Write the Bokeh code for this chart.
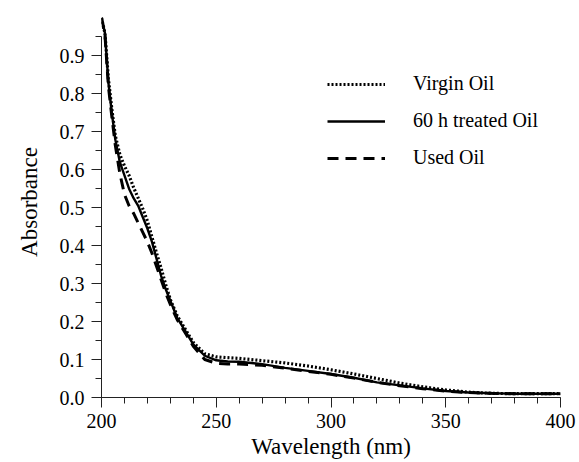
from bokeh.plotting import figure
from bokeh.models import Range1d, FixedTicker, Legend, LegendItem
from bokeh.embed import file_html
from bokeh.resources import INLINE

wavelength = [200, 201.5, 203, 204.5, 206, 208, 210, 212, 214, 216, 218, 220, 222, 224, 226, 228, 230,
              233, 236, 240, 245, 250, 255, 260, 270, 280, 290, 300, 310, 320, 330, 340, 350, 360,
              370, 380, 390, 400]

virgin_oil = [1.00, 0.96, 0.84, 0.76, 0.69, 0.64, 0.61, 0.585, 0.553, 0.525, 0.497, 0.465, 0.422,
              0.38, 0.34, 0.297, 0.258, 0.215, 0.185, 0.145, 0.115, 0.107, 0.105, 0.103, 0.097,
              0.091, 0.083, 0.073, 0.062, 0.050, 0.038, 0.028, 0.020, 0.014, 0.011, 0.010, 0.010, 0.010]

treated_oil = [1.00, 0.96, 0.83, 0.75, 0.68, 0.62, 0.585, 0.55, 0.525, 0.505, 0.475, 0.445, 0.41,
               0.365, 0.32, 0.285, 0.255, 0.21, 0.18, 0.14, 0.11, 0.098, 0.095, 0.094, 0.088,
               0.078, 0.070, 0.062, 0.052, 0.040, 0.032, 0.024, 0.017, 0.013, 0.011, 0.010, 0.010, 0.010]

used_oil = [1.00, 0.955, 0.82, 0.74, 0.665, 0.59, 0.535, 0.505, 0.485, 0.46, 0.435, 0.41, 0.38,
            0.345, 0.31, 0.275, 0.245, 0.205, 0.175, 0.135, 0.10, 0.09, 0.088, 0.088, 0.085,
            0.077, 0.069, 0.061, 0.051, 0.040, 0.031, 0.023, 0.017, 0.013, 0.011, 0.010, 0.010, 0.010]

x_ticks = [200, 250, 300, 350, 400]
x_minor = list(range(200, 401, 10))
y_ticks = [0.0, 0.1, 0.2, 0.3, 0.4, 0.5, 0.6, 0.7, 0.8, 0.9]
y_minor = [round(i * 0.05, 2) for i in range(0, 20)]
y_tick_labels = {v: f"{v:.1f}" for v in y_ticks}

FONT = "'Liberation Serif', 'Times New Roman', serif"

p = figure(frame_width=459, frame_height=391, output_backend="svg", toolbar_location=None,
           x_range=Range1d(200, 400), y_range=Range1d(0, 1.03),
           min_border_left=101, min_border_right=19, min_border_top=6, min_border_bottom=65)
p.outline_line_color = None
p.xgrid.visible = False
p.ygrid.visible = False
p.background_fill_color = "white"
p.border_fill_color = "white"

r_virgin = p.line(wavelength, virgin_oil, line_color="black", line_width=3.2, line_dash="2 2")
r_treated = p.line(wavelength, treated_oil, line_color="black", line_width=2.4)
r_used = p.line(wavelength, used_oil, line_color="black", line_width=3, line_dash="11 7")

for ax in (p.xaxis[0], p.yaxis[0]):
    ax.axis_line_color = "#222222"
    ax.axis_line_width = 1
    ax.major_tick_line_color = "#222222"
    ax.minor_tick_line_color = "#222222"
    ax.major_tick_out = 10
    ax.major_tick_in = 0
    ax.minor_tick_out = 6
    ax.minor_tick_in = 0
    ax.major_label_text_font = FONT
    ax.major_label_text_font_size = "20px"
    ax.major_label_text_color = "black"
    ax.axis_label_text_font = FONT
    ax.axis_label_text_font_size = "23px"
    ax.axis_label_text_font_style = "normal"
    ax.axis_label_text_color = "black"

p.xaxis.ticker = FixedTicker(ticks=x_ticks, minor_ticks=x_minor)
p.yaxis.ticker = FixedTicker(ticks=y_ticks, minor_ticks=y_minor)
p.yaxis.bounds = (0, 0.95)
p.yaxis.major_label_overrides = y_tick_labels
p.xaxis.axis_label = "Wavelength (nm)"
p.yaxis.axis_label = "Absorbance"
p.xaxis.major_label_standoff = 6
p.yaxis.major_label_standoff = 7
p.xaxis.axis_label_standoff = 3
p.yaxis.axis_label_standoff = 15

legend = Legend(items=[LegendItem(label="Virgin Oil", renderers=[r_virgin]),
                       LegendItem(label="60 h treated Oil", renderers=[r_treated]),
                       LegendItem(label="Used Oil", renderers=[r_used])],
                location=(226, 228), orientation="vertical")
legend.glyph_width = 58
legend.glyph_height = 20
legend.label_height = 20
legend.spacing = 14
legend.padding = 0
legend.margin = 0
legend.label_standoff = 28
legend.border_line_color = None
legend.background_fill_alpha = 0
legend.label_text_font = FONT
legend.label_text_font_size = "20px"
legend.label_text_color = "black"
p.add_layout(legend)

open("out.html", "w").write(file_html(p, INLINE))
